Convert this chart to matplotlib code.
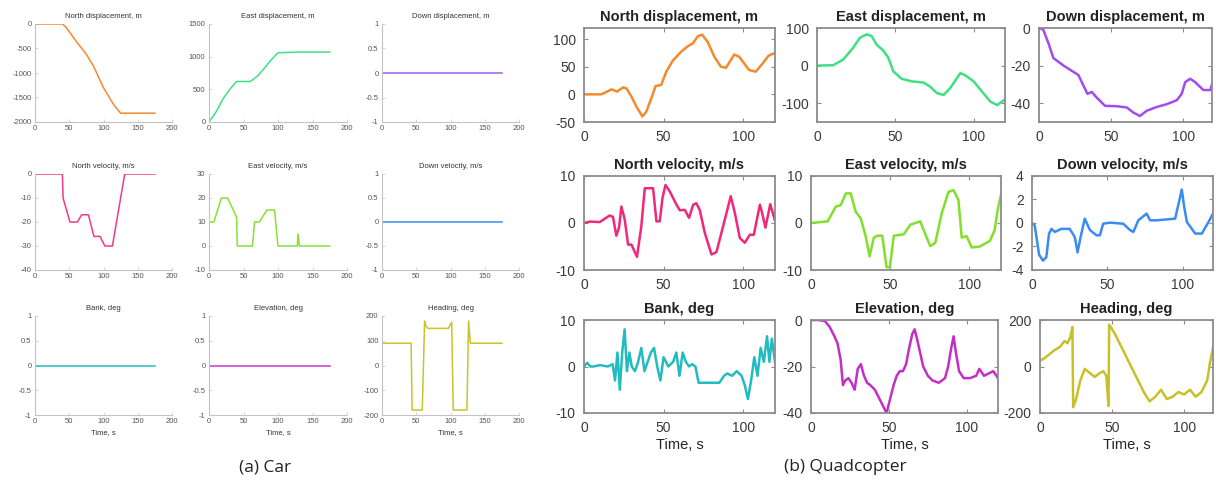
"""
Car vs quadcopter navigation test trajectories (3x3 panels each)
"""

import matplotlib

matplotlib.use("Agg")
import matplotlib.pyplot as plt  # type: ignore
from matplotlib.ticker import FuncFormatter

W, H = 1216, 491

# ---------------- (a) Car ----------------
car_t_flat = [0, 175]
car_zero = [0, 0]

car_t_north = [0, 40, 45, 60, 75, 85, 100, 115, 125, 175]
car_north_disp = [0, 0, -60, -350, -620, -850, -1300, -1650, -1820, -1820]

car_t_east = [0, 10, 20, 30, 40, 60, 70, 80, 90, 100, 130, 175]
car_east_disp = [0, 150, 350, 500, 620, 620, 700, 820, 950, 1060, 1070, 1070]

car_t_nvel = [0, 40, 41, 51, 62, 68, 78, 86, 95, 102, 113, 131, 175]
car_north_vel = [0, 0, -10, -20, -20, -17, -17, -26, -26, -30, -30, 0, 0]

car_t_evel = [0, 7, 18, 27, 40, 41, 63, 66, 73, 84, 95, 100, 128, 129, 131, 175]
car_east_vel = [10, 10, 20, 20, 12, 0, 0, 10, 10, 15, 15, 0, 0, 5, 0, 0]

car_t_head = [0, 42.5, 44, 58.8, 62.2, 64, 67, 96.8, 101.7, 104, 124, 126.4, 129, 175]
car_heading = [90, 90, -180, -180, 180, 160, 150, 150, 175, -180, -180, 180, 90, 90]

# ---------------- (b) Quadcopter ----------------
q_t_ndisp = [0, 11, 17.3, 20.8, 24.6, 26.7, 29.8, 32.9, 36.7, 39.2, 42.3, 45, 48.5,
             51.7, 55.8, 61, 65.2, 68.3, 71.5, 74.2, 77.7, 81.9, 86, 89.2, 94.4,
             97.5, 103.7, 107.9, 112, 116, 120]
q_north_disp = [0, 0, 9, 5, 12.6, 10.8, -4, -22, -40, -31, -7, 15, 17, 41, 61, 77,
                87, 92, 105, 108, 95, 68, 50, 48, 72, 68, 44, 41, 55, 70, 75]

q_t_edisp = [0, 10.3, 16.7, 23, 27.4, 31.6, 34.8, 38, 42.3, 45.5, 48.7, 54, 60.5,
             68, 72.2, 76.5, 80.8, 85, 91.5, 94.7, 100, 105.3, 110.7, 115, 120]
q_east_disp = [0, 1, 16, 47, 74, 83, 79, 56, 40, 21, -15, -35, -42, -45, -56, -73,
               -78, -60, -20, -26, -42, -69, -96, -105, -90]

q_t_ddisp = [0, 0.7, 3, 6.5, 10, 17, 24, 27.3, 30.8, 33.6, 36.6, 40, 45.8, 54, 61,
             65.5, 70, 74.8, 81.7, 88.7, 95.6, 99, 101.4, 104.9, 108.3, 114, 118.8, 120]
q_down_disp = [0, 0, -1, -8, -16, -20, -23.4, -25, -30.6, -35, -34, -37, -41.4,
               -41.6, -42.3, -45, -46.8, -44, -42, -40.5, -38.4, -35, -28.8, -27,
               -28.8, -33, -33, -30]

q_t_nvel = [0, 3.6, 9.9, 16.1, 18.2, 20.3, 22, 23.5, 25.6, 27.7, 29.8, 33.3, 36,
            38.2, 43.4, 45.5, 47.6, 49.3, 51.2, 53.9, 58.1, 60.2, 63.3, 66, 68.6,
            70.6, 72.7, 75.9, 80.1, 83.2, 87.4, 92.2, 94.8, 97.9, 101, 104.2, 106.7,
            110.5, 112, 114, 117, 120]
q_north_vel = [0, 0.3, 0.2, 1.6, 1.3, -2.7, -1, 3.5, 0.7, -4.6, -4.6, -7.2, -0.7,
               7.4, 7.4, 0.35, 0.35, 5.3, 8.1, 6.7, 3.9, 2.7, 2.8, 1.1, 3.9, 4.2,
               2.8, -2.1, -6.7, -6.2, -0.7, 5.7, 2.1, -3.2, -4.2, -2.5, -2.5, 3.9,
               2, -1, 4, 0.5]

q_t_evel = [0, 10.5, 15.7, 18.8, 22, 25.1, 28.2, 31.4, 34.5, 37, 39.7, 41.8, 45,
            47.7, 49.8, 52.3, 58.6, 62.8, 65.9, 69, 72.2, 75.3, 78.5, 82.6, 86.8,
            90, 93.1, 95.2, 98.3, 101.5, 106.7, 113, 116, 118, 120]
q_east_vel = [0, 0.35, 3.5, 3.8, 6.3, 6.3, 2.4, 1, -2.8, -7.1, -3.1, -2.7, -2.7,
              -9.4, -9.4, -2.7, -2.4, -0.35, 0, 0.35, -2.4, -4.9, -4.2, 2.1, 6.6,
              7, 4.9, -3.1, -2.8, -5.2, -5, -3.8, -1.5, 3, 6]

q_t_dvel = [0, 1.8, 4.7, 7.3, 9.5, 11.3, 12.9, 15.1, 19.5, 25, 28.4, 30.2, 32.2,
            35, 38.4, 42.8, 45, 47.2, 51.7, 60.5, 65, 67.2, 70.5, 76, 78.3, 82.7,
            94.9, 97.1, 99.3, 100.9, 102.7, 106, 108.2, 112.6, 117, 120]
q_down_vel = [0, -0.2, -2.7, -3.2, -2.9, -0.9, -0.5, -0.76, -0.5, -0.5, -1.2, -2.5,
              -1.2, 0.37, -0.6, -1.05, -1.05, -0.06, 0.03, -0.06, -0.6, -0.76, 0.23,
              0.8, 0.23, 0.23, 0.37, 1.6, 2.85, 1.36, 0.08, -0.5, -0.9, -0.9, 0.08, 0.8]

q_t_bank = [0, 2, 4, 6, 10, 15, 18, 19.5, 21, 22.5, 24, 25.5, 27, 28.5, 30, 32, 34,
            36, 38, 40, 42, 44, 46, 48, 50, 53, 56, 58, 60, 62, 64, 66, 68, 70, 72,
            75, 80, 85, 88, 90, 93, 96, 99, 101, 103, 105, 107, 109, 111, 113, 115,
            116.5, 118, 120]
q_bank = [0, 0.8, 0, 0, 0.3, 0, 0.5, -3, 3, -5, 3, 8, -1, 3, 0, -1, 1, 4, -1, 1, 3,
          4, 0, -3, 2, 0, 1, 3, -2, 3, 1, 0, 0.5, 0, -3.5, -3.5, -3.5, -3.5, -2,
          -1.5, -2, -1, -2, -4, -7, -3, 2, -2, 4, 1, 6.5, 1, 6, 1]

q_t_elev = [0, 5, 9, 12, 15, 17, 19, 20.5, 22, 24, 26, 28, 30, 32, 34, 36, 38, 41,
            44, 47, 48.5, 50, 53, 55, 57, 59, 61, 63, 65, 66.5, 68, 70, 72, 75, 78,
            82, 86, 88, 90, 91.5, 93, 95, 98, 102, 106, 108, 111, 114, 117, 120]
q_elevation = [0, 0, -0.5, -3, -7, -10, -17, -28, -26, -25, -27, -30, -21, -19, -24,
               -27, -28, -30, -34, -38, -40, -36, -28, -24, -22, -22, -19, -12, -6,
               -4, -8, -14, -20, -24, -26, -27, -25, -20, -12, -7, -14, -22, -25,
               -25, -24, -21, -24, -23, -22, -25]

q_t_head = [0, 3, 7, 10, 14, 17, 19, 21, 22.5, 23, 25, 28, 31, 34, 38, 41, 44, 46,
            47.5, 48, 52, 56, 60, 64, 68, 72, 76, 80, 84, 88, 92, 96, 100, 104, 108,
            112, 116, 118, 120]
q_heading = [25, 35, 55, 70, 85, 110, 100, 125, 170, -175, -140, -60, -10, -25,
             -45, -30, -20, -40, -170, 180, 140, 90, 40, -10, -60, -110, -150, -130,
             -100, -140, -130, -110, -120, -100, -130, -110, -60, 20, 80]

CAR_COLORS = ["#f28a2e", "#3fe082", "#a15cf5",
              "#f03a86", "#86e03a", "#3a8cf0",
              "#22bfc0", "#cf35cf", "#c9c42a"]

plt.rcParams["font.family"] = ["Liberation Sans", "DejaVu Sans"]
plt.rcParams["axes.unicode_minus"] = False

fmt = FuncFormatter(lambda v, p: f"{v:g}")


def px_axes(fig, left, top, right, bottom):
    """axes from pixel box"""
    return fig.add_axes([left / W, 1 - bottom / H, (right - left) / W, (bottom - top) / H])


def car_axes(fig, box, title, t, y, color, ylim, yticks, xlabel=False):
    ax = px_axes(fig, *box)
    ax.plot(t, y, color=color, lw=1.1, solid_joinstyle="round")
    ax.set_xlim(0, 200)
    ax.set_xticks([0, 50, 100, 150, 200])
    ax.set_ylim(ylim)
    ax.set_yticks(yticks)
    ax.xaxis.set_major_formatter(fmt)
    ax.yaxis.set_major_formatter(fmt)
    for s in ["top", "right"]:
        ax.spines[s].set_visible(False)
    for s in ["left", "bottom"]:
        ax.spines[s].set_color("#c4c4c4")
        ax.spines[s].set_linewidth(0.8)
    ax.tick_params(direction="in", length=2, width=0.5, color="#c4c4c4",
                   labelsize=5.5, labelcolor="#555555", pad=2.5)
    ax.set_title(title, fontsize=5.5, color="#333333", pad=4)
    if xlabel:
        ax.set_xlabel("Time, s", fontsize=5.5, color="#333333", labelpad=2.5)
    return ax


def quad_axes(fig, box, title, t, y, color, ylim, yticks, xlabel=False):
    ax = px_axes(fig, *box)
    ax.plot(t, y, color=color, lw=1.8, solid_joinstyle="round")
    ax.set_xlim(0, 120)
    ax.set_xticks([0, 50, 100])
    ax.set_ylim(ylim)
    ax.set_yticks(yticks)
    ax.xaxis.set_major_formatter(fmt)
    ax.yaxis.set_major_formatter(fmt)
    for s in ax.spines.values():
        s.set_color("#8c8c8c")
        s.set_linewidth(1.3)
    ax.tick_params(direction="in", length=3, width=0.8, color="#8c8c8c",
                   labelsize=10, labelcolor="#3a3a3a", pad=6, top=True, right=True)
    ax.set_title(title, fontsize=10.5, fontweight="bold", color="#222222", pad=5)
    if xlabel:
        ax.set_xlabel("Time, s", fontsize=10.5, color="#222222", labelpad=2)
    return ax


fig = plt.figure(figsize=(W / 100, H / 100), dpi=100)

# car grid (pixel boxes)
c_cols = [(35, 172), (209, 347), (382, 519)]
c_rows = [(24, 122), (174, 270), (316, 415)]


def cbox(r, c):
    return (c_cols[c][0], c_rows[r][0], c_cols[c][1], c_rows[r][1])


car_axes(fig, cbox(0, 0), "North displacement, m", car_t_north, car_north_disp,
         CAR_COLORS[0], (-2000, 0), [-2000, -1500, -1000, -500, 0])
car_axes(fig, cbox(0, 1), "East displacement, m", car_t_east, car_east_disp,
         CAR_COLORS[1], (0, 1500), [0, 500, 1000, 1500])
car_axes(fig, cbox(0, 2), "Down displacement, m", car_t_flat, car_zero,
         CAR_COLORS[2], (-1, 1), [-1, -0.5, 0, 0.5, 1])
car_axes(fig, cbox(1, 0), "North velocity, m/s", car_t_nvel, car_north_vel,
         CAR_COLORS[3], (-40, 0), [-40, -30, -20, -10, 0])
car_axes(fig, cbox(1, 1), "East velocity, m/s", car_t_evel, car_east_vel,
         CAR_COLORS[4], (-10, 30), [-10, 0, 10, 20, 30])
car_axes(fig, cbox(1, 2), "Down velocity, m/s", car_t_flat, car_zero,
         CAR_COLORS[5], (-1, 1), [-1, -0.5, 0, 0.5, 1])
car_axes(fig, cbox(2, 0), "Bank, deg", car_t_flat, car_zero,
         CAR_COLORS[6], (-1, 1), [-1, -0.5, 0, 0.5, 1], xlabel=True)
car_axes(fig, cbox(2, 1), "Elevation, deg", car_t_flat, car_zero,
         CAR_COLORS[7], (-1, 1), [-1, -0.5, 0, 0.5, 1], xlabel=True)
car_axes(fig, cbox(2, 2), "Heading, deg", car_t_head, car_heading,
         CAR_COLORS[8], (-200, 200), [-200, -100, 0, 100, 200], xlabel=True)

# quadcopter grid
quad_axes(fig, (584, 28, 775, 122), "North displacement, m", q_t_ndisp, q_north_disp,
          "#f28a2e", (-50, 120), [-50, 0, 50, 100])
quad_axes(fig, (817, 28, 1005, 122), "East displacement, m", q_t_edisp, q_east_disp,
          "#3fe082", (-150, 100), [-100, 0, 100])
quad_axes(fig, (1039, 28, 1212, 122), "Down displacement, m", q_t_ddisp, q_down_disp,
          "#a04cf2", (-50, 0), [-40, -20, 0])
quad_axes(fig, (584, 176, 775, 270), "North velocity, m/s", q_t_nvel, q_north_vel,
          "#f0287c", (-10, 10), [-10, 0, 10])
quad_axes(fig, (811, 176, 1001, 270), "East velocity, m/s", q_t_evel, q_east_vel,
          "#80e02a", (-10, 10), [-10, 0, 10])
quad_axes(fig, (1032, 176, 1213, 270), "Down velocity, m/s", q_t_dvel, q_down_vel,
          "#3a8cf0", (-4, 4), [-4, -2, 0, 2, 4])
quad_axes(fig, (584, 320, 775, 413), "Bank, deg", q_t_bank, q_bank,
          "#22bcc0", (-10, 10), [-10, 0, 10], xlabel=True)
quad_axes(fig, (811, 320, 998, 413), "Elevation, deg", q_t_elev, q_elevation,
          "#c42ec8", (-40, 0), [-40, -20, 0], xlabel=True)
quad_axes(fig, (1040, 320, 1213, 413), "Heading, deg", q_t_head, q_heading,
          "#c8c028", (-200, 200), [-200, 0, 200], xlabel=True)

fig.text(265 / W, 1 - 467 / H, "(a) Car", fontsize=12.5, family="Open Sans",
         color="#222222", ha="center", va="center")
fig.text(845 / W, 1 - 467 / H, "(b) Quadcopter", fontsize=12.5, family="Open Sans",
         color="#222222", ha="center", va="center")

fig.savefig("out.png", dpi=100)
